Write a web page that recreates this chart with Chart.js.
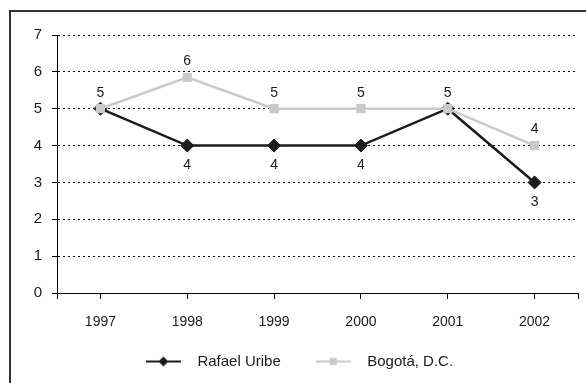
<!DOCTYPE html>
<html>
<head>
<meta charset="utf-8">
<script src="https://cdn.jsdelivr.net/npm/chart.js@4/dist/chart.umd.min.js"></script>
<style>
  html, body { margin: 0; padding: 0; background: #fff; }
  #wrap { width: 586px; height: 383px; }
</style>
</head>
<body>
<div id="wrap"><canvas id="chart-1" width="586" height="383"></canvas></div>
<script>
const years = ["1997", "1998", "1999", "2000", "2001", "2002"];
const rafaelUribe = [5, 4, 4, 4, 5, 3];
const bogota = [5, 5.85, 5, 5, 5, 4];
const yTicks = [0, 1, 2, 3, 4, 5, 6, 7];

const darkColor = "#1b1b1b";
const grayColor = "#c9c9c9";
const fontFam = "'Liberation Sans', Arial, sans-serif";

// legend icons: blank lead-in, short line with the marker in the middle
function legendIcon(color, shape) {
  const c = document.createElement("canvas");
  c.width = 69; c.height = 14;
  const g = c.getContext("2d");
  g.strokeStyle = color;
  g.lineWidth = 2;
  g.beginPath(); g.moveTo(25, 7); g.lineTo(60, 7); g.stroke();
  g.fillStyle = color;
  g.beginPath();
  if (shape === "diamond") {
    g.moveTo(42.5, 2); g.lineTo(47.5, 7); g.lineTo(42.5, 12); g.lineTo(37.5, 7);
  } else {
    g.rect(39, 3.5, 7, 7);
  }
  g.closePath(); g.fill();
  return c;
}

const framePlugin = {
  id: "frame",
  afterLayout(chart) {
    // legend sits a little left of centre in the original
    if (chart.legend) { chart.legend.left -= 7; chart.legend.right -= 7; }
  },
  beforeDraw(chart) {
    const ctx = chart.ctx;
    ctx.save();
    ctx.strokeStyle = "#333";
    ctx.lineWidth = 2;
    ctx.strokeRect(10, 11, 700, 500);
    ctx.restore();
  },
  afterDraw(chart) {
    // tick marks at both ends of the x axis
    const x = chart.scales.x, ctx = chart.ctx;
    ctx.save();
    ctx.strokeStyle = "#000";
    ctx.lineWidth = 1;
    ctx.beginPath();
    [x.left, x.right].forEach(px => {
      ctx.moveTo(Math.round(px) + 0.5, x.top);
      ctx.lineTo(Math.round(px) + 0.5, x.top + 6);
    });
    ctx.stroke();
    ctx.restore();
  }
};

const valueLabels = {
  id: "valueLabels",
  afterDatasetsDraw(chart) {
    const ctx = chart.ctx;
    ctx.save();
    ctx.font = "14px " + fontFam;
    ctx.fillStyle = "#1a1a1a";
    ctx.textAlign = "center";
    ctx.textBaseline = "middle";
    const bMeta = chart.getDatasetMeta(1);
    bMeta.data.forEach((pt, i) => {
      ctx.fillText(String(Math.round(bogota[i])), pt.x, pt.y - 16);
    });
    const rMeta = chart.getDatasetMeta(0);
    rMeta.data.forEach((pt, i) => {
      if (Math.round(rafaelUribe[i]) === Math.round(bogota[i])) return;
      ctx.fillText(String(Math.round(rafaelUribe[i])), pt.x, pt.y + 20);
    });
    ctx.restore();
  }
};

const ctx1 = document.getElementById("chart-1").getContext("2d");
const myChart1 = new Chart(ctx1, {
  type: "line",
  data: {
    labels: years,
    datasets: [
      {
        label: "Rafael Uribe",
        data: rafaelUribe,
        borderColor: darkColor,
        backgroundColor: darkColor,
        borderWidth: 2.5,
        pointStyle: "rectRot",
        pointRadius: 6.5,
        pointBorderWidth: 1,
        pointBackgroundColor: darkColor,
        pointBorderColor: darkColor,
        order: 1,
      },
      {
        label: "Bogotá, D.C.",
        data: bogota,
        borderColor: grayColor,
        backgroundColor: grayColor,
        borderWidth: 2.5,
        pointStyle: "rect",
        pointRadius: 6.5,
        pointBorderWidth: 0,
        pointBackgroundColor: grayColor,
        order: 0,
      },
    ],
  },
  options: {
    responsive: false,
    animation: false,
    layout: { padding: { left: 10, right: 8, top: 35, bottom: 4 } },
    plugins: {
      tooltip: { enabled: false },
      legend: {
        position: "bottom",
        labels: {
          sort: (a, b) => a.datasetIndex - b.datasetIndex,
          usePointStyle: true,
          pointStyleWidth: 69,
          padding: 10,
          color: "#1a1a1a",
          font: { family: fontFam, size: 15 },
          generateLabels: (chart) => [
            { text: "Rafael Uribe", pointStyle: legendIcon(darkColor, "diamond"), datasetIndex: 0, fontColor: "#1a1a1a", lineWidth: 0, strokeStyle: "transparent", fillStyle: darkColor },
            { text: "Bogotá, D.C.", pointStyle: legendIcon(grayColor, "square"), datasetIndex: 1, fontColor: "#1a1a1a", lineWidth: 0, strokeStyle: "transparent", fillStyle: grayColor },
          ],
        },
      },
    },
    scales: {
      x: {
        offset: true,
        afterFit: (s) => { s.height = 51; },
        grid: {
          offset: false,
          drawOnChartArea: false,
          drawTicks: true,
          tickLength: 6,
          color: "#000",
        },
        border: { display: true, color: "#000", width: 1 },
        ticks: {
          color: "#1a1a1a",
          padding: 15,
          font: { family: fontFam, size: 14 },
        },
      },
      y: {
        min: 0,
        max: 7,
        afterFit: (s) => { s.width = 47; },
        afterBuildTicks: (s) => { s.ticks = yTicks.map(v => ({ value: v })); },
        grid: {
          color: "#000",
          lineWidth: 1,
          drawTicks: true,
          tickLength: 5,
          tickBorderDash: [],
          tickColor: "#000",
        },
        border: { display: true, color: "#000", width: 1, dash: [2, 3] },
        ticks: {
          color: "#1a1a1a",
          padding: 10,
          font: { family: fontFam, size: 15 },
        },
      },
    },
  },
  plugins: [framePlugin, valueLabels],
});
</script>
</body>
</html>
